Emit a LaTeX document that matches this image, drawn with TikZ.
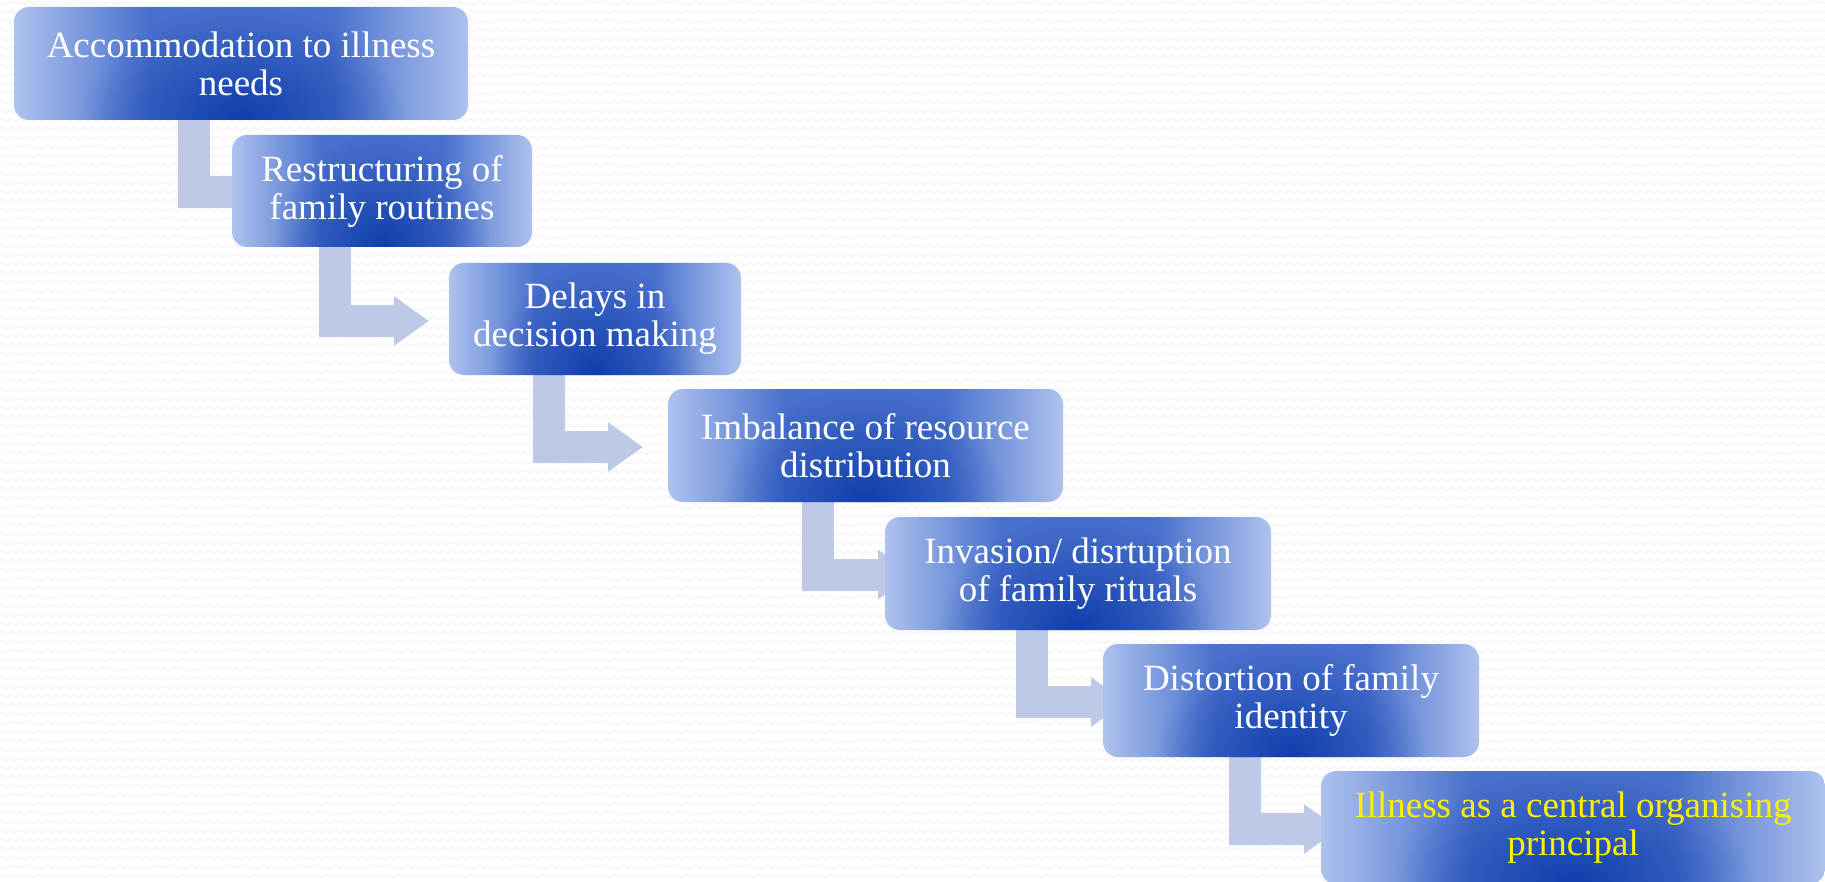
\documentclass[tikz,border=0pt]{standalone}
\usepackage{fontspec}
\setmainfont{Liberation Serif}
\usetikzlibrary{arrows.meta,fadings,decorations.pathmorphing,calc}
\definecolor{bdark}{RGB}{16,62,172}
\definecolor{bmid}{RGB}{72,112,204}
\definecolor{blight}{RGB}{174,194,238}
\definecolor{flowc}{RGB}{189,201,230}
\definecolor{bgline}{RGB}{240,240,240}
\pgfdeclarehorizontalshading{boxh}{100bp}{color(0bp)=(blight); color(25bp)=(blight); color(40bp)=(bmid); color(60bp)=(bmid); color(75bp)=(blight); color(100bp)=(blight)}
\tikzfading[name=glow, inner color=transparent!0, outer color=transparent!100]
\pgfdeclarelayer{bg}
\pgfsetlayers{bg,main}
\tikzset{
  stepbox/.style={rounded corners=15pt, inner sep=0pt, align=center, text=white,
    font=\fontsize{37}{38}\selectfont,
    path picture={
      \shade[shading=boxh]
        (path picture bounding box.south west) rectangle (path picture bounding box.north east);
      \fill[bdark, path fading=glow]
        let \p1=(path picture bounding box.south west), \p2=(path picture bounding box.north east) in
        ({(\x1+\x2)/2},\y1) ellipse [x radius={0.36*(\x2-\x1)}, y radius={1.0*(\y2-\y1)}];
    }},
  flow/.style={draw=flowc, line width=32pt, line join=miter,
    -{Triangle[width=47pt,length=35pt]}},
  bgwave/.style={draw=bgline, line width=0.8pt, decorate,
    decoration={zigzag, segment length=9pt, amplitude=1.6pt}},
}
\begin{document}
\begin{tikzpicture}[x=1pt, y=-1pt]
\useasboundingbox (0,0) rectangle (1825,882);

\node[stepbox, minimum width=454pt, minimum height=113pt] (b1) at (241,63.5) {Accommodation to illness\\needs};
\node[stepbox, minimum width=300pt, minimum height=112pt] (b2) at (382,191) {Restructuring of\\family routines};
\node[stepbox, minimum width=292pt, minimum height=112pt] (b3) at (595,319) {Delays in\\decision making};
\node[stepbox, minimum width=395pt, minimum height=113pt] (b4) at (865.5,445.5) {Imbalance of resource\\distribution};
\node[stepbox, minimum width=386pt, minimum height=113pt] (b5) at (1078,573.5) {Invasion/ disrtuption\\of family rituals};
\node[stepbox, minimum width=376pt, minimum height=113pt] (b6) at (1291,700.5) {Distortion of family\\identity};
\node[stepbox, minimum width=504pt, minimum height=113pt, text=yellow] (b7) at (1573,827.5) {Illness as a central organising\\principal};

\coordinate (t1) at (275,192.5);
\coordinate (t2) at (429,321);
\coordinate (t3) at (643,447);
\coordinate (t4) at (913,574.5);
\coordinate (t5) at (1126,702);
\coordinate (t6) at (1339,829);

\begin{pgfonlayer}{bg}
  \fill[white] (0,0) rectangle (1825,882);
  \foreach \yy in {3,12,...,882} {
    \draw[bgwave] (0,\yy) -- (1825,\yy);
  }
  \draw[flow] ([xshift=180pt,yshift=2pt]b1.south west) |- (t1);
  \draw[flow] ([xshift=103.5pt,yshift=2pt]b2.south west) |- (t2);
  \draw[flow] ([xshift=100.5pt,yshift=2pt]b3.south west) |- (t3);
  \draw[flow] ([xshift=150.5pt,yshift=2pt]b4.south west) |- (t4);
  \draw[flow] ([xshift=147pt,yshift=2pt]b5.south west) |- (t5);
  \draw[flow] ([xshift=142pt,yshift=2pt]b6.south west) |- (t6);
\end{pgfonlayer}
\end{tikzpicture}
\end{document}
